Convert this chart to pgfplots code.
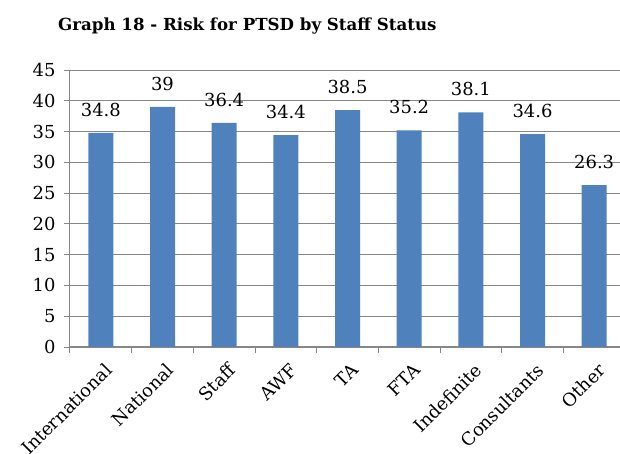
\documentclass[border=0pt]{standalone}
\usepackage{pgfplots}
\pgfplotsset{compat=1.18}
\usepackage{fontspec}
\setmainfont{DejaVu Serif}
\definecolor{barblue}{HTML}{4F81BD}
\definecolor{gridgray}{HTML}{878787}
\begin{document}
\begin{tikzpicture}[x=1bp,y=1bp]
\useasboundingbox (-70,-107) rectangle (550,347);
\clip (-70,-107) rectangle (550,347);
\node[anchor=base west, inner sep=0pt, font=\bfseries\fontsize{16.7}{18}\selectfont] at (-12,316) {Graph 18 - Risk for PTSD by Staff Status};
\begin{axis}[
  at={(0,0)}, anchor=south west,
  scale only axis, width=555bp, height=277bp,
  xmin=-0.5, xmax=8.5, ymin=0, ymax=45,
  axis x line=bottom, axis y line=left,
  axis line style={draw=gridgray, line width=1bp, -},
  ybar, bar width=25bp,
  ytick={0,5,...,45},
  ymajorgrids, grid style={draw=gridgray, line width=0.9bp},
  xtick={0,...,8},
  xticklabels={International,National,Staff,AWF,TA,FTA,Indefinite,Consultants,Other},
  minor xtick={-0.5,0.5,...,7.5},
  major x tick style={draw=none},
  minor x tick style={draw=gridgray, line width=1bp},
  tick align=outside, minor tick length=6bp, major tick length=6bp,
  y tick style={draw=gridgray, line width=0.9bp},
  /pgf/number format/assume math mode=true,
  ticklabel style={font=\fontsize{18}{18}\selectfont},
  yticklabel style={xshift=-5bp},
  xticklabel style={rotate=45, anchor=north east, xshift=-1bp, yshift=-5bp},
  nodes near coords,
  every node near coord/.append style={anchor=base, yshift=16.5bp, font=\fontsize{18}{18}\selectfont, text=black},
  point meta=explicit symbolic,
]
\addplot[fill=barblue, draw=none] coordinates {
  (0,34.8) [34.8] (1,39) [39] (2,36.4) [36.4] (3,34.4) [34.4] (4,38.5) [38.5]
  (5,35.2) [35.2] (6,38.1) [38.1] (7,34.6) [34.6] (8,26.3) [26.3]
};
\end{axis}
\end{tikzpicture}
\end{document}
